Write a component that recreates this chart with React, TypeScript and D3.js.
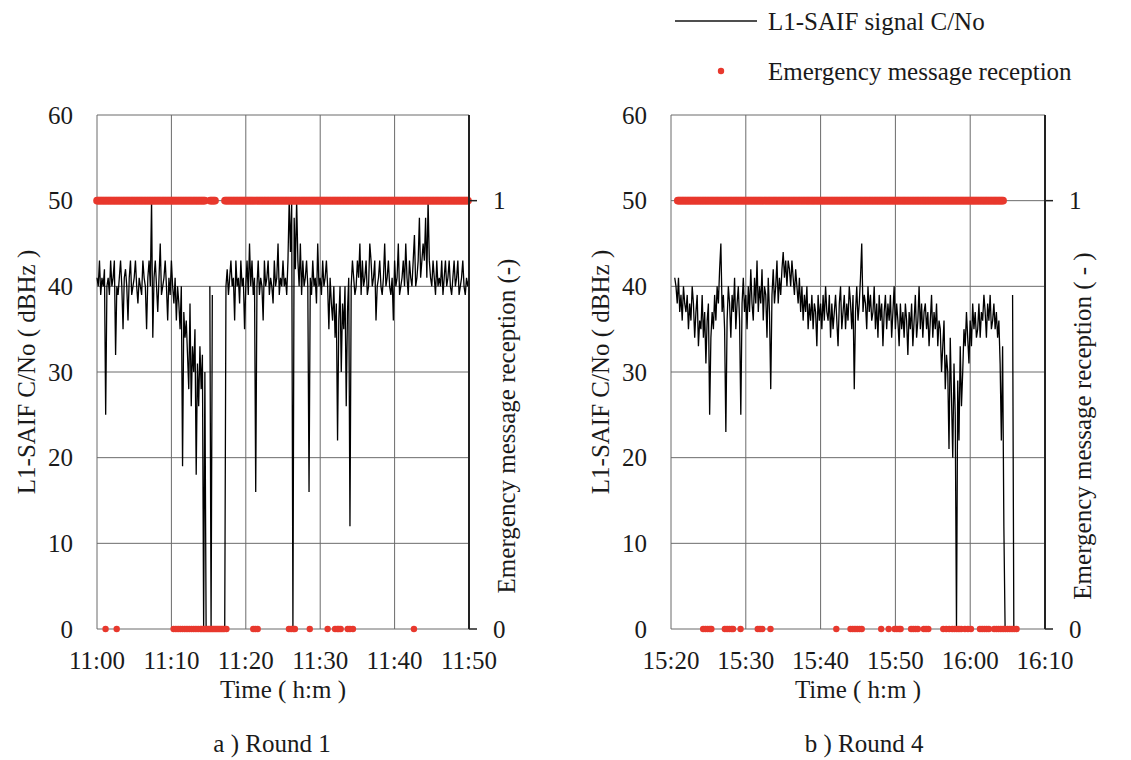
import React from 'react';
import * as d3 from 'd3';

// C/No samples every 10 s (6 per minute), null = no signal
const SIGNAL_ROUND1: (number | null)[] = [
  41, 40, 43, 39, 41, 40, 42, 25, 40, 41, 39, 43, 40, 41, 43, 32, 40, 39,
  41, 43, 40, 35, 41, 42, 40, 36, 41, 43, 39, 40, 41, 43, 40, 38, 41, 40,
  39, 43, 41, 40, 35, 41, 43, 40, 50, 34, 41, 43, 40, 37, 41, 45, 39, 40,
  41, 43, 40, 36, 41, 39, 43, 40, 38, 41, 36, 40, 38, 35, 40, 19, 37, 34,
  36, 32, 28, 38, 26, 33, 30, 35, 18, 31, 26, 33, 28, 32, 0, 30, 0, null,
  null, 40, 0, 39, null, null, null, null, null, null, null, null,
  null, 0, 40, 42, 39, 41, 43, 40, 41, 36, 43, 40, 41, 38, 43, 40, 41, 35,
  40, 43, 39, 45, 40, 43, 39, 41, 16, 40, 43, 39, 41, 40, 36, 43, 40, 41,
  43, 39, 41, 40, 38, 43, 40, 41, 45, 39, 41, 40, 43, 40, 41, 39, 43, 50,
  44, 50, 0, 48, 42, 50, 43, 40, 45, 39, 43, 40, 41, 43, 40, 16, 41, 39,
  43, 40, 41, 38, 45, 40, 41, 39, 43, 40, 41, 43, 40, 35, 41, 38, 36, 40,
  34, 38, 22, 36, 40, 30, 38, 35, 40, 26, 37, 41, 12, 40, 43, 41, 39, 40,
  43, 41, 45, 39, 43, 40, 41, 43, 39, 40, 45, 43, 40, 41, 43, 36, 40, 41,
  43, 40, 39, 41, 45, 40, 41, 43, 40, 39, 41, 36, 43, 40, 41, 45, 39, 40,
  41, 43, 40, 45, 41, 39, 43, 41, 40, 43, 46, 40, 41, 43, 48, 41, 43, 45,
  43, 48, 41, 50, 43, 41, 40, 43, 41, 39, 43, 40, 41, 40, 43, 39, 41, 43,
  40, 41, 43, 40, 39, 41, 43, 40, 41, 43, 39, 40, 41, 43, 40, 39, 41, 40,
  41,
];

const SIGNAL_ROUND4: (number | null)[] = [
  null, null, null, 41, 40, 38, 41, 37, 39, 36, 40, 38, 37, 39, 35, 38, 36, 40,
  38, 34, 37, 39, 33, 36, 35, 39, 34, 37, 31, 36, 38, 25, 34, 37, 35, 39,
  36, 40, 38, 42, 45, 37, 39, 35, 23, 36, 40, 38, 34, 39, 37, 41, 35, 38,
  40, 36, 25, 38, 41, 37, 39, 35, 40, 37, 42, 38, 36, 41, 38, 43, 37, 40,
  38, 42, 36, 40, 39, 34, 41, 37, 28, 39, 42, 38, 40, 43, 38, 41, 39, 42,
  44, 41, 43, 40, 43, 42, 40, 43, 41, 39, 42, 40, 38, 41, 37, 40, 36, 39,
  37, 40, 35, 38, 36, 39, 35, 38, 37, 33, 39, 36, 38, 35, 39, 36, 40, 37,
  36, 39, 34, 38, 35, 37, 39, 36, 33, 38, 40, 35, 37, 39, 35, 38, 36, 40,
  38, 35, 39, 28, 37, 40, 36, 38, 41, 45, 37, 39, 38, 35, 40, 37, 39, 36,
  37, 40, 35, 38, 34, 39, 36, 38, 33, 37, 39, 35, 38, 36, 39, 34, 37, 40,
  35, 38, 36, 33, 38, 35, 37, 34, 38, 36, 32, 37, 35, 38, 33, 36, 39, 34,
  36, 40, 35, 38, 34, 37, 38, 35, 37, 33, 36, 39, 34, 37, 35, 38, 33, 36,
  35, 30, 33, 36, 28, 32, 30, 21, 34, 27, 20, 31, 25, 0, 29, 22, 33, 26,
  30, 35, 33, 37, 34, 31, 36, 33, 38, 35, 37, 34, 35, 38, 34, 37, 36, 39,
  37, 34, 38, 36, 39, 35, 36, 38, 35, 37, 34, 36, 31, 22, 33, 12, 0, null,
  null, null, null, null, 39, 0,
];

// emergency message reception = 1 over these spans (minutes from start)
const RX_OK_ROUND1 = [[0, 14.5], [15.2, 16.0], [17.2, 50]];
const RX_OK_ROUND4 = [[0.9, 44.4]];

// emergency message reception = 0 at these times (minutes)
const RX_FAIL_ROUND1 = [
  1.15, 2.65, 10.3, 10.6, 10.9, 11.2, 11.5, 11.8, 12.1, 12.4, 12.7, 13.0, 13.3,
  13.6, 13.9, 14.1, 14.3, 14.5, 14.7, 14.9, 15.1, 15.3, 15.5, 15.7, 15.9, 16.1,
  16.3, 16.5, 16.7, 16.9, 17.1, 17.4, 21.0, 21.3, 21.6, 25.8, 26.1, 26.4, 26.6,
  28.6, 31.0, 32.0, 32.3, 32.5, 32.75, 33.7, 34.0, 34.4, 42.6,
];
const RX_FAIL_ROUND4 = [
  4.3, 4.6, 4.9, 5.2, 5.4, 7.2, 7.5, 7.8, 8.1, 8.3, 9.3, 11.6, 11.9, 12.2, 13.3,
  22.1, 24.0, 24.3, 24.6, 24.9, 25.2, 25.5, 28.1, 29.1, 29.9, 30.2, 30.5, 30.7,
  32.1, 32.4, 32.7, 33.0, 33.8, 34.1, 34.4, 36.4, 36.8, 37.2, 37.6, 37.9, 38.2,
  38.5, 38.8, 39.3, 39.7, 40.1, 41.3, 41.6, 41.9, 42.2, 42.5, 43.2, 43.5, 43.8,
  44.1, 44.4, 44.7, 45.0, 45.3, 45.6, 45.9, 46.2,
];

const TIME_TICKS_ROUND1 = ['11:00', '11:10', '11:20', '11:30', '11:40', '11:50'];
const TIME_TICKS_ROUND4 = ['15:20', '15:30', '15:40', '15:50', '16:00', '16:10'];
const CNO_TICKS = [0, 10, 20, 30, 40, 50, 60];
const RX_TICKS = [0, 1];

const STEP = 1 / 6; // 10 s in minutes
const FONT = 'Liberation Serif, DejaVu Serif, serif';
const FS = 25;
const RED = '#e8382d';
const INK = '#1a1a1a';
const TOP = 115;
const BOTTOM = 629;

type PanelProps = {
  left: number;
  right: number;
  signal: (number | null)[];
  rxOk: number[][];
  rxFail: number[];
  ticks: string[];
  rightTitle: string;
  caption: string;
  captionX: number;
};

const Panel = ({ left, right, signal, rxOk, rxFail, ticks, rightTitle, caption, captionX }: PanelProps) => {
  const x = d3.scaleLinear().domain([0, 50]).range([left, right]);
  const y = d3.scaleLinear().domain([0, 60]).range([BOTTOM, TOP]);
  const y2 = d3.scaleLinear().domain([0, 1.2]).range([BOTTOM, TOP]);

  const pts = signal.map((v, i) => ({ t: i * STEP, v }));
  const line = d3
    .line<{ t: number; v: number | null }>()
    .defined(d => d.v !== null)
    .x(d => x(d.t))
    .y(d => y(d.v as number));

  // one reception sample every 10 s along the "received" spans
  const okDots: number[] = [];
  rxOk.forEach(([a, b]) => {
    d3.range(a, b + 1e-6, STEP).forEach(t => okDots.push(t));
  });

  const tickVals = d3.range(0, 51, 10);
  const mid = (TOP + BOTTOM) / 2;

  return (
    <g>
      {/* grid */}
      {CNO_TICKS.map(v => (
        <line key={'h' + v} x1={left} x2={right} y1={y(v)} y2={y(v)} stroke="#6b6b6b" strokeWidth={1} />
      ))}
      {tickVals.map(v => (
        <line key={'v' + v} x1={x(v)} x2={x(v)} y1={TOP} y2={BOTTOM} stroke="#6b6b6b" strokeWidth={1} />
      ))}

      {/* signal */}
      <path d={line(pts) || ''} fill="none" stroke="#000" strokeWidth={1.3} />

      {/* reception */}
      {okDots.map((t, i) => (
        <circle key={'o' + i} cx={x(t)} cy={y2(1)} r={3.8} fill={RED} />
      ))}
      {rxFail.map((t, i) => (
        <circle key={'f' + i} cx={x(t)} cy={y2(0)} r={3.2} fill={RED} />
      ))}

      {/* right axis */}
      <line x1={right} x2={right} y1={TOP} y2={BOTTOM} stroke="#222" strokeWidth={2} />
      {RX_TICKS.map(v => (
        <g key={'r' + v}>
          <line x1={right} x2={right + 8} y1={y2(v)} y2={y2(v)} stroke="#222" strokeWidth={1.5} />
          <text x={right + 24} y={y2(v)} dy="0.35em" fontSize={FS} fontFamily={FONT} fill={INK}>{v}</text>
        </g>
      ))}

      {/* left tick labels */}
      {CNO_TICKS.map(v => (
        <text key={'l' + v} x={left - 24} y={y(v)} dy="0.35em" fontSize={FS} fontFamily={FONT} fill={INK} textAnchor="end">{v}</text>
      ))}
      {tickVals.map((v, i) => (
        <text key={'x' + v} x={x(v)} y={669} fontSize={FS} fontFamily={FONT} fill={INK} textAnchor="middle">{ticks[i]}</text>
      ))}

      {/* titles */}
      <text x={(left + right) / 2} y={698} fontSize={FS} fontFamily={FONT} fill={INK} textAnchor="middle">Time ( h:m )</text>
      <text transform={`translate(${left - 71},${mid}) rotate(-90)`} dy="0.35em" fontSize={FS} fontFamily={FONT} fill={INK} textAnchor="middle">
        L1-SAIF C/No ( dBHz )
      </text>
      <text transform={`translate(${right + 37},${mid + 54}) rotate(-90)`} dy="0.35em" fontSize={FS} fontFamily={FONT} fill={INK} textAnchor="middle">
        {rightTitle}
      </text>
      <text x={captionX} y={752} fontSize={FS} fontFamily={FONT} fill={INK} textAnchor="middle">{caption}</text>
    </g>
  );
};

export default function App() {
  return (
    <svg width={1131} height={760} style={{ position: 'absolute', left: 0, top: 0, background: '#fff' }}>
      <rect width={1131} height={760} fill="#fff" />
      <Panel
        left={97}
        right={469}
        signal={SIGNAL_ROUND1}
        rxOk={RX_OK_ROUND1}
        rxFail={RX_FAIL_ROUND1}
        ticks={TIME_TICKS_ROUND1}
        rightTitle="Emergency message reception (-)"
        caption="a ) Round 1"
        captionX={272}
      />
      <Panel
        left={671}
        right={1045}
        signal={SIGNAL_ROUND4}
        rxOk={RX_OK_ROUND4}
        rxFail={RX_FAIL_ROUND4}
        ticks={TIME_TICKS_ROUND4}
        rightTitle="Emergency message reception ( - )"
        caption="b ) Round 4"
        captionX={864}
      />

      {/* legend */}
      <line x1={675} x2={757} y1={21} y2={21} stroke="#151515" strokeWidth={1.6} />
      <text x={768} y={30} fontSize={FS} fontFamily={FONT} fill={INK}>L1-SAIF signal C/No</text>
      <circle cx={721} cy={71} r={3.2} fill={RED} />
      <text x={768} y={80} fontSize={FS} fontFamily={FONT} fill={INK}>Emergency message reception</text>
    </svg>
  );
}
